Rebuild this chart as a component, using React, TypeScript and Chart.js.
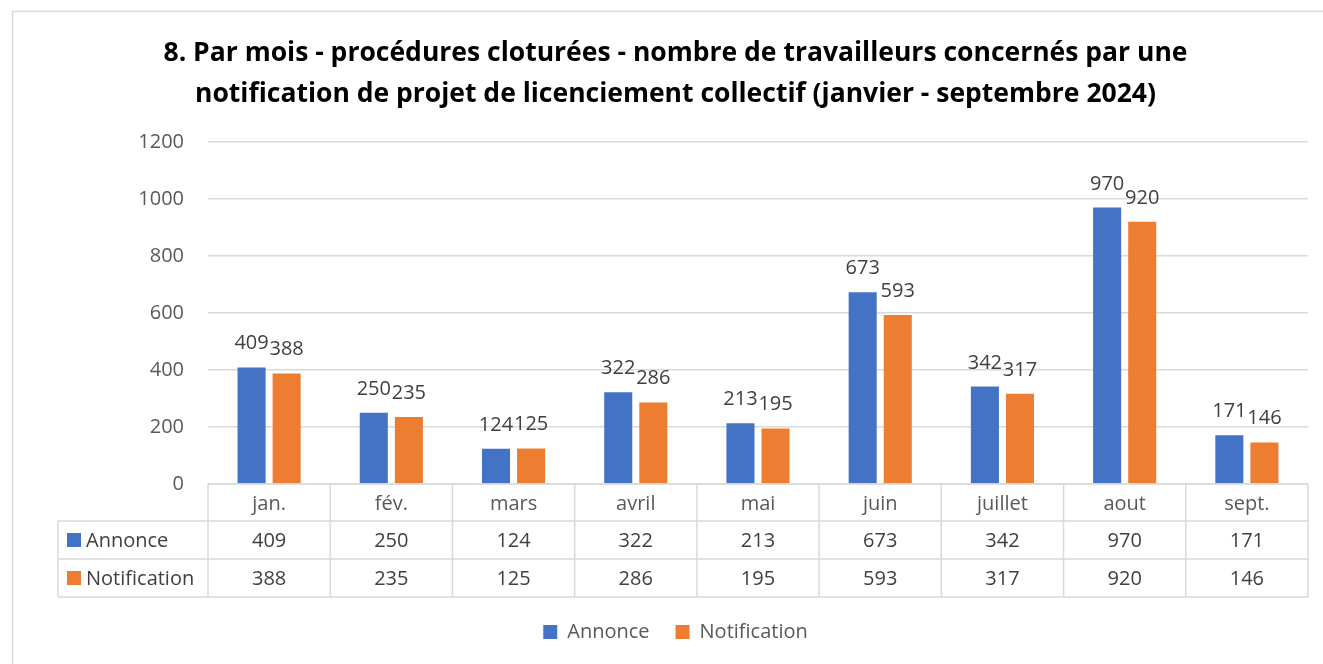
import React, { useEffect, useRef } from "react";
import { Chart, registerables } from "chart.js";

Chart.register(...registerables);

const titleLines = [
  "8. Par mois - procédures cloturées - nombre de travailleurs concernés par une",
  "notification de projet de licenciement collectif (janvier - septembre 2024)",
];
const categories = ["jan.", "fév.", "mars", "avril", "mai", "juin", "juillet", "aout", "sept."];
const seriesNames = ["Annonce", "Notification"];
const annonce = [409, 250, 124, 322, 213, 673, 342, 970, 171];
const notification = [388, 235, 125, 286, 195, 593, 317, 920, 146];
const yMin = 0;
const yMax = 1200;
const yStep = 200;

const COLORS = ["#4472C4", "#ED7D31"];
const FONT = "'Open Sans', 'Noto Sans', sans-serif";
const GRID = "#d9d9d9";
const TEXT = "#595959";
const LABEL = "#404040";

const frame = {
  id: "frame",
  beforeDraw(chart: any) {
    const { ctx, width, height } = chart;
    ctx.save();
    ctx.fillStyle = "#ffffff";
    ctx.fillRect(0, 0, width, height);
    ctx.strokeStyle = GRID;
    ctx.lineWidth = 1.5;
    ctx.beginPath();
    ctx.moveTo(12.5, height + 5);
    ctx.lineTo(12.5, 11.5);
    ctx.lineTo(width + 5, 11.5);
    ctx.stroke();
    ctx.restore();
  },
};

const dataLabels = {
  id: "dataLabels",
  afterDatasetsDraw(chart: any) {
    const { ctx } = chart;
    ctx.save();
    ctx.font = `20px ${FONT}`;
    ctx.fillStyle = LABEL;
    ctx.textAlign = "center";
    ctx.textBaseline = "alphabetic";
    chart.data.datasets.forEach((ds: any, di: number) => {
      const meta = chart.getDatasetMeta(di);
      meta.data.forEach((bar: any, i: number) => {
        ctx.fillText(String(ds.data[i]), bar.x, bar.y - 18);
      });
    });
    ctx.restore();
  },
};

const dataTable = {
  id: "dataTable",
  afterDraw(chart: any) {
    const { ctx, chartArea } = chart;
    const n = categories.length;
    const left = chartArea.left;
    const right = chartArea.right;
    const colW = (right - left) / n;
    const y0 = chartArea.bottom;
    const y1 = y0 + 37;
    const y2 = y1 + 38;
    const y3 = y2 + 38;
    const labelLeft = left - 150;
    ctx.save();
    ctx.strokeStyle = GRID;
    ctx.lineWidth = 1.5;
    ctx.beginPath();
    ctx.moveTo(left, y0);
    ctx.lineTo(right, y0);
    [y1, y2, y3].forEach((y) => {
      ctx.moveTo(labelLeft, y);
      ctx.lineTo(right, y);
    });
    ctx.moveTo(labelLeft, y1);
    ctx.lineTo(labelLeft, y3);
    for (let i = 0; i <= n; i++) {
      const x = left + i * colW;
      ctx.moveTo(x, y0);
      ctx.lineTo(x, y3);
    }
    ctx.stroke();

    ctx.font = `20px ${FONT}`;
    ctx.textBaseline = "middle";
    const rows = [annonce, notification];
    const rowMid = [(y1 + y2) / 2, (y2 + y3) / 2];
    rows.forEach((vals, r) => {
      const cy = rowMid[r];
      ctx.fillStyle = COLORS[r];
      ctx.fillRect(labelLeft + 9, cy - 7, 14, 14);
      ctx.fillStyle = LABEL;
      ctx.textAlign = "left";
      ctx.fillText(seriesNames[r], labelLeft + 28, cy + 1);
      ctx.textAlign = "center";
      vals.forEach((v, i) => {
        const x = chart.scales.x.getPixelForValue(i);
        ctx.fillText(String(v), x, cy + 1);
      });
    });
    ctx.restore();
  },
};

export default function App() {
  const ref = useRef<HTMLCanvasElement>(null);
  useEffect(() => {
    if (!ref.current) return;
    const chart = new Chart(ref.current, {
      type: "bar",
      data: {
        labels: categories,
        datasets: [
          {
            label: seriesNames[0],
            data: annonce,
            backgroundColor: COLORS[0],
            barPercentage: 0.8,
            categoryPercentage: 0.574,
          },
          {
            label: seriesNames[1],
            data: notification,
            backgroundColor: COLORS[1],
            barPercentage: 0.8,
            categoryPercentage: 0.574,
          },
        ],
      },
      options: {
        responsive: false,
        animation: false,
        devicePixelRatio: 1,
        layout: { padding: { left: 43, right: 15, top: 0, bottom: 12 } },
        plugins: {
          title: {
            display: true,
            text: titleLines,
            color: "#000000",
            font: { family: FONT, size: 26.5, weight: "bold", lineHeight: 41 / 26.5 },
            padding: { top: 32.5, bottom: 27.5 },
          },
          legend: {
            position: "bottom",
            labels: {
              boxWidth: 14,
              boxHeight: 14,
              padding: 26,
              color: TEXT,
              font: { family: FONT, size: 20 },
            },
          },
          tooltip: { enabled: false },
        },
        scales: {
          x: {
            grid: { display: false },
            border: { display: false },
            ticks: {
              color: TEXT,
              font: { family: FONT, size: 20 },
              padding: 0,
              maxRotation: 0,
            },
            afterFit(scale: any) {
              scale.height = 112;
            },
          },
          y: {
            min: yMin,
            max: yMax,
            ticks: {
              stepSize: yStep,
              color: TEXT,
              font: { family: FONT, size: 20 },
              padding: 24,
              callback: (v: any) => String(v),
            },
            grid: { color: GRID, lineWidth: 1.5, drawTicks: false },
            border: { display: false },
            afterFit(scale: any) {
              scale.width = 165;
            },
          },
        },
      },
      plugins: [frame, dataLabels, dataTable],
    } as any);
    return () => chart.destroy();
  }, []);
  return (
    <div style={{ position: "fixed", left: 0, top: 0, width: 1323, height: 664, background: "#fff" }}>
      <canvas ref={ref} width={1323} height={664} style={{ display: "block" }} />
    </div>
  );
}
